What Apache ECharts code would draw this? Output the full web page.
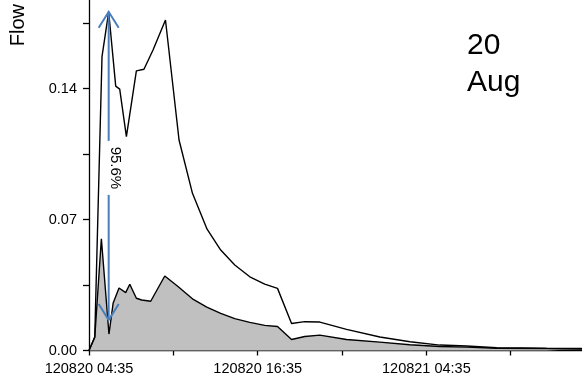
<!DOCTYPE html>
<html><head><meta charset="utf-8">
<script src="https://cdn.jsdelivr.net/npm/echarts@6/dist/echarts.min.js"></script>
<style>html,body{margin:0;padding:0;background:#fff}#c{width:582px;height:377px}</style>
</head><body><div id="c"></div>
<script>
// Hours since 120820 04:35
const upperHours = [0, 0.41, 0.925, 1.40, 1.90, 2.185, 2.66, 3.37, 3.91, 4.555, 5.44, 6.405, 7.36, 8.40, 9.37, 10.37, 11.44, 12.50, 13.41, 14.41, 15.35, 16.42, 18.32, 20.69, 22.83, 24.96, 26.86, 29.0, 32.55, 35.07];
const upperFlow  = [0, 0.0072, 0.157, 0.181, 0.1413, 0.1397, 0.1143, 0.1494, 0.1503, 0.1606, 0.1766, 0.1125, 0.0840, 0.0648, 0.0537, 0.0457, 0.0394, 0.0355, 0.0332, 0.0144, 0.0154, 0.0152, 0.0113, 0.0072, 0.0047, 0.0029, 0.0024, 0.0015, 0.0012, 0.0011];
const lowerHours = [0, 0.41, 0.88, 1.42, 1.72, 2.135, 2.61, 2.90, 3.37, 3.75, 4.39, 5.39, 6.33, 7.42, 8.38, 9.37, 10.37, 11.44, 12.50, 13.41, 14.41, 15.35, 16.42, 18.32, 20.69, 22.83, 24.96, 26.86, 29.0, 32.55, 35.07];
const lowerFlow  = [0, 0.0071, 0.0597, 0.0088, 0.0254, 0.0334, 0.0309, 0.0354, 0.0279, 0.0270, 0.0263, 0.0398, 0.0342, 0.0273, 0.0232, 0.0198, 0.0170, 0.0150, 0.0134, 0.0128, 0.0059, 0.0075, 0.0082, 0.0059, 0.0045, 0.0031, 0.0021, 0.0018, 0.0012, 0.0010, 0.0008];
const xTickHours = [0, 12, 24];
const xTickLabels = ['120820 04:35', '120820 16:35', '120821 04:35'];
const yTickValues = [0, 0.07, 0.14];
const yTickLabels = ['0.00', '0.07', '0.14'];
const arrowHour = [1.40];
const arrowTop = [0.181];
const arrowBottom = [0.0163];
const arrowLabel = ['95.6%'];
const yAxisName = 'Flow';
const dateNote = '20\nAug';

const FONT = '"Liberation Sans", Arial, sans-serif';
const BLUE = '#4a7ebb';

function pairs(xs, ys) { return xs.map((x, i) => [x, ys[i]]); }

const chart = echarts.init(document.getElementById('c'), null, {renderer: 'canvas'});
chart.setOption({
  animation: false,
  backgroundColor: '#fff',
  grid: {left: 89, right: 0, top: 0, bottom: 26.5, containLabel: false},
  xAxis: {
    type: 'value', min: 0, max: 35.07, interval: 6,
    axisLine: {lineStyle: {color: '#000', width: 1.3}},
    axisTick: {length: 5, lineStyle: {color: '#000', width: 1.3}},
    splitLine: {show: false},
    axisLabel: {
      color: '#000', fontFamily: FONT, fontSize: 14.5, margin: 11, hideOverlap: false,
      showMinLabel: true, showMaxLabel: false,
      formatter: function (v) {
        const i = xTickHours.findIndex(h => Math.abs(h - v) < 1e-6);
        return i >= 0 ? xTickLabels[i] : '';
      }
    }
  },
  yAxis: {
    type: 'value', min: 0, max: 0.1873, interval: 0.035,
    axisLine: {show: true, lineStyle: {color: '#000', width: 1.3}},
    axisTick: {show: true, length: 6, lineStyle: {color: '#000', width: 1.3}},
    splitLine: {show: false},
    axisLabel: {
      color: '#000', fontFamily: FONT, fontSize: 14.5, margin: 12,
      showMaxLabel: false,
      formatter: function (v) {
        const i = yTickValues.findIndex(t => Math.abs(t - v) < 1e-6);
        return i >= 0 ? yTickLabels[i] : '';
      }
    }
  },
  graphic: [
    {type: 'text', left: 8, top: 4, rotation: Math.PI / 2,
     style: {text: yAxisName, fill: '#000', font: '20px ' + FONT}},
    {type: 'text', left: 467, top: 27.5,
     style: {text: dateNote, fill: '#000', font: '30px ' + FONT, lineHeight: 37}}
  ],
  series: [
    {
      type: 'line', data: pairs(lowerHours, lowerFlow), symbol: 'none', z: 2,
      lineStyle: {color: '#000', width: 1.4},
      areaStyle: {color: '#c0c0c0', opacity: 1}
    },
    {
      type: 'line', data: pairs(upperHours, upperFlow), symbol: 'none', z: 3,
      lineStyle: {color: '#000', width: 1.4}
    },
    {
      type: 'custom', z: 5, clip: false,
      data: arrowHour.map((h, i) => [h, arrowTop[i], arrowBottom[i], arrowLabel[i]]),
      encode: {x: 0, y: [1, 2]},
      renderItem: function (params, api) {
        const t = api.coord([api.value(0), api.value(1)]);
        const b = api.coord([api.value(0), api.value(2)]);
        const x = t[0];
        const mid = (t[1] + b[1]) / 2 + 2;
        const gap = 27;
        const dx = 10, dy = 16;
        const ls = {stroke: BLUE, lineWidth: 2, fill: null};
        return {
          type: 'group',
          children: [
            {type: 'polyline', shape: {points: [[x, t[1]], [x, mid - gap]]}, style: ls},
            {type: 'polyline', shape: {points: [[x, mid + gap], [x, b[1]]]}, style: ls},
            {type: 'polyline', shape: {points: [[x - dx, t[1] + dy], [x, t[1]], [x + dx, t[1] + dy]]}, style: ls},
            {type: 'polyline', shape: {points: [[x - dx, b[1] - dy], [x, b[1]], [x + dx, b[1] - dy]]}, style: ls},
            {type: 'text', x: x + 6, y: mid, rotation: -Math.PI / 2,
             style: {text: api.value(3), fill: '#000', font: '15px ' + FONT, align: 'center', verticalAlign: 'middle'}}
          ]
        };
      }
    }
  ]
});
</script>
</body></html>
